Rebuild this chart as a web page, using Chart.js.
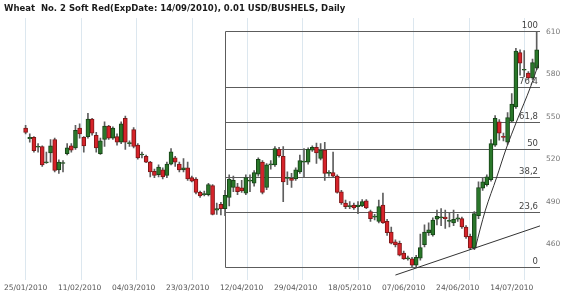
<!DOCTYPE html>
<html><head><meta charset="utf-8">
<script src="https://cdn.jsdelivr.net/npm/chart.js@4.4.1/dist/chart.umd.min.js"></script>
<style>html,body{margin:0;padding:0;background:#fff}#wrap{width:570px;height:297px;position:relative}</style>
</head><body><div id="wrap"><canvas id="c" width="570" height="297"></canvas></div>
<script>
const chartTitle = 'Wheat  No. 2 Soft Red(ExpDate: 14/09/2010), 0.01 USD/BUSHELS, Daily';
const tickLabels = ['25/01/2010','11/02/2010','04/03/2010','23/03/2010','12/04/2010','29/04/2010','18/05/2010','07/06/2010','24/06/2010','14/07/2010'];
const barsPerLabel = 13;
const opens = [542,534.5,535.5,528.5,529,517.5,524.5,534,512.5,517,524,529.5,528,542,535.5,536,548.5,537,524,534,
543.5,535,536,532,549,531,541,530,523,522,518,511.5,509,512.5,508.5,516.5,521,516.5,512.5,514,
507,506,496.5,495,495,501.3,484,488,485,493,500,500.5,499.8,496,504.5,503,509.5,518,500,516,
516,527,522,506.5,506.5,506,511,518,518,526.5,528.5,520.5,526.5,510,510.5,508,497,489,486.5,487.5,
486.5,487,490.5,483,479,476,487.5,476,468.5,461.5,460.5,453.5,449.5,449.5,445,450,459.5,468,466.5,477.5,
478.5,479,476,475,477.5,478,472,465.5,457,480,499.5,502,505.5,530,546.5,536,532,547,557,595.5,
583,581,577.5,584.5];
const highs = [544,538,536,531,529.5,525,534,535,519.5,519,531,531,544,545,536,552.5,549,539,535,546.5,
544,543,538,546.5,550.5,533,542.5,531,525,523,518.5,513,516,514,518,527.5,522,518,520.5,518,
508,507,497.5,497.5,503,502,489,489.5,498,509,508,503,505,509,509,512,521,519,517,519,
529,528.5,529,511,510,514,523,527.5,528,529.5,531.5,531,532,512,525,509,498,491,490,489,
490,491.5,491.5,484,481,491,496,477.5,472,463,462,455,451.5,450.5,452,467,473.5,475,478.5,484,
485,484,482,484,481,479,473,467,483,504,507,509,534,551,548,538.5,553,566.5,598.5,597.5,
597,582,591,610.5];
const lows = [538,532,525,525,515,517,518,511,510,511,523,525,527,535,525,535,537,525,523.5,529,
534,534,530,531,527,529,528,520,521,517.5,507.5,507,507.5,506,507,516,515,511,511,505,
504,495.5,493,494,494,480.5,481,480.5,480,487,497,495,496.5,495,497,501,508,495.5,498.5,513,
515,521.5,490,502,500,505,510,507.5,516.5,525.5,517,519.5,505,508,507,496,488,485,485,484.5,
481.5,486.5,485,476,477,475,474.5,466,460,458,451.5,449,448.5,444,444,448.5,458,466,465.5,473.5,
473,471,472,473,476,471,464,456,456,478,498,501,504.5,529,533.5,533,530.5,546,556,579.5,
578.5,576.5,576.5,583.5];
const closes = [539,535.5,526,529,516,518,529.5,512,518,517.5,528,526.5,540.5,538,529.5,548.5,538.5,528,533,543.5,
535,542,532,545,532,531.5,529,521,523.5,518,511,508.5,514.5,507.5,516.5,525.3,518,512.5,514,506,
504.5,496.5,494,495.5,502,481,485,485,494.5,506,505,497,497.5,507,505,510.5,520,496.5,516,516.5,
527.5,522.5,504,507,505,512.5,519,518.5,527,528.5,524.5,526.5,510,510.5,508,496.5,489,486.5,487,485.5,
487.5,490,485.5,478,479.5,486.5,475,468,460.5,459.3,452,449.5,450,445,450.5,457.5,468.5,470,477,479.5,
479,478,476.5,477.5,478.5,472,465,457,481.5,500,504,507.5,531,549,538.5,535.5,549.5,559,596.5,588,
583.5,577.5,588.5,597.5];
const priceTicks = [460,490,520,550,580,610];
const fibStart = 48, fibLow = 443.5, fibHigh = 610.5;
const fibLevels = [0,23.6,38.2,50,61.8,76.4,100];
const fibLabels = ['0','23,6','38,2','50','61,8','76,4','100'];
const supportX = [89,124], supportY = [438,473];
const curveX = [108.2,110.6,113.4,115.6,118.2,121.6,123.4];
const curveY = [457,483.4,507.4,527,547,571.8,587.2];
const gridStep = 13.35;

const UP = '#2a772a', UPB = '#174417', DN = '#d6232a', DNB = '#7e1717';
const idx = opens.map((_, i) => i);

const fibPlugin = {
  id: 'fib',
  beforeDatasetsDraw(chart) {
    const {ctx, chartArea, scales} = chart;
    const xs = scales.x, ys = scales.y;
    const x0 = Math.round(xs.getPixelForValue(fibStart)) + 0.5;
    const x1 = chartArea.right;
    ctx.save();
    ctx.strokeStyle = '#5c5c5c';
    ctx.lineWidth = 1;
    ctx.font = '8.5px "DejaVu Sans"';
    ctx.fillStyle = '#444';
    ctx.textAlign = 'right';
    ctx.textBaseline = 'bottom';
    fibLevels.forEach((lv, k) => {
      const v = fibLow + (fibHigh - fibLow) * lv / 100;
      const y = Math.round(ys.getPixelForValue(v)) + 0.5;
      ctx.beginPath(); ctx.moveTo(x0, y); ctx.lineTo(x1, y); ctx.stroke();
      ctx.fillText(fibLabels[k], x1 - 2, y - 1);
    });
    ctx.beginPath();
    ctx.moveTo(x0, Math.round(ys.getPixelForValue(fibHigh)) + 0.5);
    ctx.lineTo(x0, Math.round(ys.getPixelForValue(fibLow)) + 0.5);
    ctx.stroke();
    ctx.restore();
  },
  afterDraw(chart) {
    const ctx = chart.ctx;
    ctx.save();
    ctx.font = 'bold 8.5px "DejaVu Sans"';
    ctx.fillStyle = '#1a1a1a';
    ctx.textBaseline = 'middle';
    ctx.textAlign = 'left';
    ctx.fillText(chartTitle, 4, 9);
    ctx.restore();
  }
};

new Chart(document.getElementById('c'), {
  data: {
    datasets: [
      {
        type: 'bar', label: 'wick',
        data: idx.map(i => ({x: i, y: [lows[i], highs[i]]})),
        backgroundColor: '#5e5e5e', barThickness: 1, grouped: false, order: 3
      },
      {
        type: 'bar', label: 'body',
        data: idx.map(i => ({x: i, y: [opens[i], closes[i]]})),
        backgroundColor: idx.map(i => closes[i] >= opens[i] ? UP : DN),
        borderColor: idx.map(i => closes[i] >= opens[i] ? UPB : DNB),
        borderWidth: 1, borderSkipped: false, barThickness: 4, minBarLength: 1,
        grouped: false, order: 2
      },
      {
        type: 'line', label: 'support',
        data: supportX.map((x, k) => ({x, y: supportY[k]})),
        borderColor: '#333', borderWidth: 1, pointRadius: 0, order: 1
      },
      {
        type: 'line', label: 'curve',
        data: curveX.map((x, k) => ({x, y: curveY[k]})),
        borderColor: '#333', borderWidth: 1, pointRadius: 0,
        cubicInterpolationMode: 'monotone', order: 1
      }
    ]
  },
  options: {
    responsive: false, animation: false, devicePixelRatio: 1,
    layout: {padding: {top: 18, left: 0, right: 0, bottom: 0}},
    plugins: {legend: {display: false}, tooltip: {enabled: false}, title: {display: false}},
    scales: {
      x: {
        type: 'linear', position: 'bottom', min: -6, max: 123.8, offset: false,
        grid: {display: false, drawTicks: false}, border: {display: false},
        afterBuildTicks: s => { s.ticks = tickLabels.map((_, k) => ({value: k * barsPerLabel})); },
        ticks: {
          autoSkip: false, maxRotation: 0, padding: 4, color: '#555',
          font: {family: 'DejaVu Sans', size: 7.5},
          callback: v => tickLabels[Math.round(v / barsPerLabel)]
        },
        afterFit: s => { s.height = 17; }
      },
      xg: {
        type: 'linear', position: 'bottom', min: -6, max: 123.8, offset: false,
        grid: {display: true, color: '#dce7ef', drawTicks: false}, border: {display: false},
        afterBuildTicks: s => { s.ticks = tickLabels.map((_, k) => ({value: k * gridStep})); },
        ticks: {display: false},
        afterFit: s => { s.height = 0; }
      },
      y: {
        type: 'linear', position: 'right', min: 434.5, max: 620,
        grid: {display: false, drawTicks: false}, border: {display: false},
        afterBuildTicks: s => { s.ticks = priceTicks.map(v => ({value: v})); },
        ticks: {padding: 6, color: '#777', font: {family: 'DejaVu Sans', size: 7.5}},
        afterFit: s => { s.width = 30; }
      }
    }
  },
  plugins: [fibPlugin]
});
</script>
</body></html>
